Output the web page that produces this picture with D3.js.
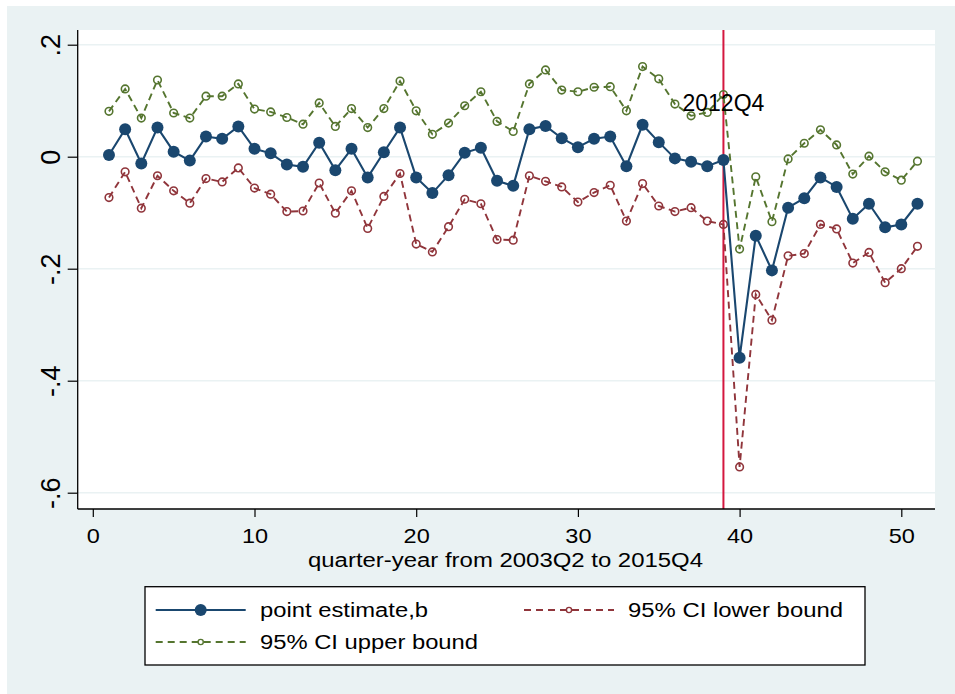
<!DOCTYPE html>
<html><head><meta charset="utf-8">
<script src="https://cdn.jsdelivr.net/npm/d3@7"></script>
<style>html,body{margin:0;padding:0;background:#fff;}svg{display:block;}</style>
</head><body>
<script>
const quarters = d3.range(1, 52);
const pointEstimate = [0.003,0.049,-0.012,0.052,0.009,-0.007,0.036,0.032,0.054,0.014,0.006,-0.014,-0.018,0.025,-0.024,0.014,-0.037,0.008,0.052,-0.037,-0.065,-0.033,0.007,0.016,-0.043,-0.052,0.049,0.055,0.033,0.017,0.032,0.036,-0.017,0.057,0.026,-0.003,-0.009,-0.017,-0.006,-0.359,-0.141,-0.203,-0.091,-0.074,-0.037,-0.054,-0.111,-0.084,-0.126,-0.121,-0.084];
const upperBound = [0.081,0.121,0.069,0.137,0.078,0.069,0.108,0.108,0.130,0.085,0.080,0.070,0.058,0.096,0.054,0.086,0.052,0.086,0.135,0.082,0.040,0.060,0.091,0.116,0.063,0.045,0.130,0.155,0.119,0.116,0.124,0.125,0.082,0.161,0.139,0.094,0.073,0.079,0.111,-0.165,-0.036,-0.116,-0.004,0.024,0.048,0.021,-0.031,0.001,-0.027,-0.042,-0.008];
const lowerBound = [-0.073,-0.027,-0.092,-0.034,-0.061,-0.083,-0.039,-0.045,-0.020,-0.056,-0.067,-0.098,-0.097,-0.047,-0.101,-0.061,-0.128,-0.071,-0.030,-0.156,-0.170,-0.125,-0.076,-0.084,-0.148,-0.149,-0.034,-0.044,-0.054,-0.081,-0.064,-0.051,-0.115,-0.048,-0.088,-0.098,-0.091,-0.115,-0.121,-0.554,-0.246,-0.292,-0.177,-0.173,-0.121,-0.129,-0.190,-0.171,-0.225,-0.200,-0.160];
const xTicks = [0,10,20,30,40,50];
const yTicks = [0.2,0,-0.2,-0.4,-0.6];
const yTickLabels = [".2","0","-.2","-.4","-.6"];
const markerLine = 39;
const markerLabel = "2012Q4";
const xTitle = "quarter-year from 2003Q2 to 2015Q4";
const legendLabels = ["point estimate,b","95% CI lower bound","95% CI upper bound"];

const W = 955, H = 694;
const BG = "#eaf2f3";
const cBlue = "#1a476f", cRed = "#90353b", cGreen = "#55752f", cLine = "#d4173f";
const FONT = "Liberation Sans, Arial, sans-serif";

const svg = d3.select("body").append("svg").attr("width", W).attr("height", H);
svg.append("rect").attr("width", W).attr("height", H).attr("fill", "#fff");
svg.append("rect").attr("x", 7).attr("y", 6).attr("width", W - 7).attr("height", H - 6).attr("fill", BG);

const pLeft = 77.7, pRight = 935, pTop = 30, pBottom = 509;
const x = d3.scaleLinear().domain([0, 50]).range([92.8, 901.3]);
const y = d3.scaleLinear().domain([-0.6, 0.2]).range([492.7, 44.7]);

svg.append("rect").attr("x", pLeft).attr("y", pTop).attr("width", pRight - pLeft).attr("height", pBottom - pTop).attr("fill", "#fff");

// grid
svg.append("g").selectAll("line").data(yTicks).join("line")
  .attr("x1", pLeft).attr("x2", pRight).attr("y1", d => y(d)).attr("y2", d => y(d))
  .attr("stroke", BG).attr("stroke-width", 1.6);

// vertical reference line
svg.append("line").attr("x1", x(markerLine)).attr("x2", x(markerLine)).attr("y1", pTop).attr("y2", pBottom)
  .attr("stroke", cLine).attr("stroke-width", 2);

// axes
const yAxis = svg.append("g").attr("transform", `translate(${pLeft},0)`)
  .call(d3.axisLeft(y).tickValues(yTicks).tickSize(10).tickFormat((d, i) => yTickLabels[i]));
yAxis.select(".domain").remove();
yAxis.selectAll(".tick line").attr("stroke", "#000").attr("stroke-width", 1.2);
yAxis.selectAll(".tick text").attr("font-family", FONT).attr("font-size", 27)
  .attr("fill", "#000").attr("text-anchor", "middle").attr("dy", null).attr("x", null)
  .attr("transform", "translate(-18,0) rotate(-90)");
svg.append("line").attr("x1", pLeft).attr("x2", pLeft).attr("y1", pTop).attr("y2", pBottom).attr("stroke", "#000").attr("stroke-width", 1.3);

const xAxis = svg.append("g").attr("transform", `translate(0,${pBottom})`)
  .call(d3.axisBottom(x).tickValues(xTicks).tickSize(8).tickFormat(d3.format("d")));
xAxis.select(".domain").remove();
xAxis.selectAll(".tick line").attr("stroke", "#000").attr("stroke-width", 1.2);
xAxis.selectAll(".tick text").attr("font-family", FONT).attr("font-size", 21)
  .attr("fill", "#000").attr("dy", null).attr("y", 34);
xAxis.selectAll(".tick text").attr("textLength", function(){ return this.getComputedTextLength() * 1.12; }).attr("lengthAdjust", "spacingAndGlyphs");
svg.append("line").attr("x1", pLeft).attr("x2", pRight).attr("y1", pBottom).attr("y2", pBottom).attr("stroke", "#000").attr("stroke-width", 1.3);

function stretchedText(g, txt, xx, yy, size, width, anchor) {
  return g.append("text").attr("x", xx).attr("y", yy).attr("font-family", FONT)
    .attr("font-size", size).attr("fill", "#000").attr("text-anchor", anchor || "start")
    .attr("textLength", width).attr("lengthAdjust", "spacingAndGlyphs").text(txt);
}
stretchedText(svg, xTitle, (308 + 703) / 2, 566.5, 20, 395, "middle");

// series
const pts = v => quarters.map((q, i) => [q, v[i]]);
const line = d3.line().x(d => x(d[0])).y(d => y(d[1]));
const series = [
  {data: upperBound, color: cGreen, dash: "7,4.5", hollow: true},
  {data: lowerBound, color: cRed, dash: "7,4.5", hollow: true},
  {data: pointEstimate, color: cBlue, dash: null, hollow: false}
];
series.forEach(s => {
  svg.append("path").datum(pts(s.data)).attr("d", line).attr("fill", "none")
    .attr("stroke", s.color).attr("stroke-width", s.hollow ? 1.9 : 2.1)
    .attr("stroke-dasharray", s.dash);
  svg.append("g").selectAll("circle").data(pts(s.data)).join("circle")
    .attr("cx", d => x(d[0])).attr("cy", d => y(d[1]))
    .attr("r", s.hollow ? 3.8 : 6)
    .attr("fill", s.hollow ? "none" : s.color)
    .attr("stroke", s.color).attr("stroke-width", s.hollow ? 1.6 : 0);
});

// label
svg.append("text").attr("x", x(markerLine)).attr("y", y(0.1) + 10.5).attr("text-anchor", "middle")
  .attr("font-family", FONT).attr("font-size", 23).attr("fill", "#000").text(markerLabel);

// legend
const lg = svg.append("g");
lg.append("rect").attr("x", 145).attr("y", 586.7).attr("width", 720).attr("height", 78.3)
  .attr("fill", "#fff").attr("stroke", "#000").attr("stroke-width", 1.3);
const legendItems = [
  {x0: 155.7, yy: 610, color: cBlue, dash: null, hollow: false, label: legendLabels[0], tx: 260, tw: 168},
  {x0: 524, yy: 610, color: cRed, dash: "7,5", hollow: true, label: legendLabels[1], tx: 628, tw: 215},
  {x0: 155.7, yy: 642, color: cGreen, dash: "7,5", hollow: true, label: legendLabels[2], tx: 260, tw: 218}
];
legendItems.forEach(it => {
  lg.append("line").attr("x1", it.x0).attr("x2", it.x0 + 90).attr("y1", it.yy).attr("y2", it.yy)
    .attr("stroke", it.color).attr("stroke-width", it.hollow ? 1.9 : 2.1).attr("stroke-dasharray", it.dash);
  lg.append("circle").attr("cx", it.x0 + 45).attr("cy", it.yy).attr("r", it.hollow ? 2.6 : 6)
    .attr("fill", it.hollow ? "#fff" : it.color).attr("stroke", it.color).attr("stroke-width", it.hollow ? 1.4 : 0);
  stretchedText(lg, it.label, it.tx, it.yy + 7.3, 20, it.tw, "start");
});
</script>
</body></html>
